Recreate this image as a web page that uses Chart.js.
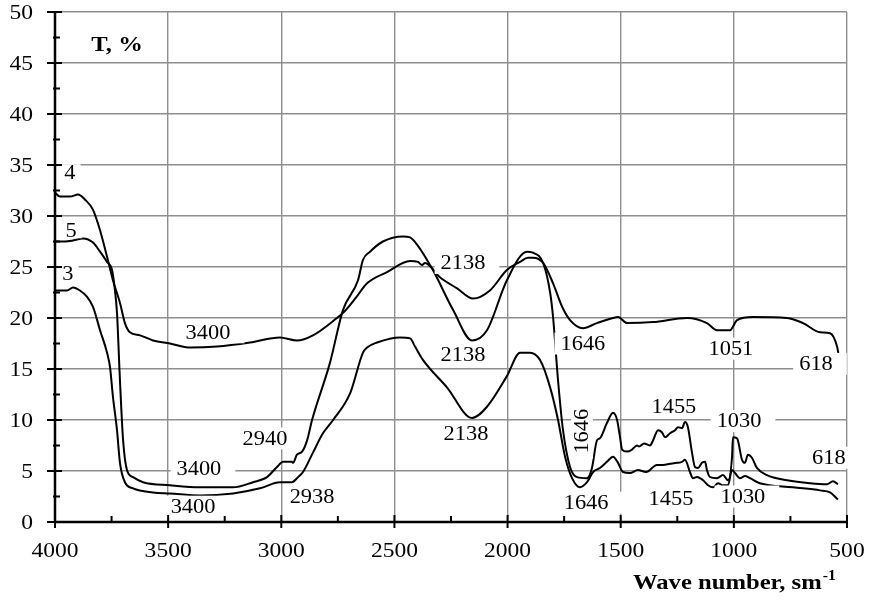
<!DOCTYPE html>
<html>
<head>
<meta charset="utf-8">
<script src="https://cdn.jsdelivr.net/npm/chart.js@4.4.0/dist/chart.umd.min.js"></script>
<style>
  html, body { margin: 0; padding: 0; background: #fff; }
  #wrap { width: 870px; height: 606px; }
</style>
</head>
<body>
<div id="wrap"><canvas id="irChart" width="870" height="606"></canvas></div>
<script>
// IR spectra: [wave number, T %]
const curve4 = [
  [4000, 32.3], [3978, 31.9], [3934, 31.9], [3898, 32.1], [3867, 31.6], [3832, 30.6],
  [3801, 28.6], [3770, 26.0], [3744, 23.7], [3713, 21.5], [3691, 19.5], [3669, 18.6],
  [3624, 18.3], [3567, 17.8], [3492, 17.5], [3403, 17.1], [3284, 17.2], [3138, 17.6],
  [3006, 18.1], [2931, 17.8], [2860, 18.3], [2754, 20.0], [2727, 20.5], [2670, 22.0],
  [2621, 23.4], [2533, 24.5], [2431, 25.6], [2396, 25.5], [2378, 25.2], [2365, 25.4],
  [2299, 24.0], [2223, 22.9], [2153, 21.9], [2078, 22.7], [2003, 24.7], [1945, 25.5],
  [1910, 25.9], [1888, 25.9], [1843, 25.4], [1799, 23.4], [1759, 21.1], [1724, 19.8],
  [1667, 19.0], [1605, 19.5], [1534, 20.0], [1512, 20.1], [1472, 19.5], [1357, 19.6],
  [1207, 20.0], [1119, 19.5], [1074, 18.8], [1017, 18.8], [986, 19.8], [916, 20.1],
  [765, 20.0], [694, 19.5], [619, 18.6], [575, 18.5], [544, 17.2], [531, 15.6]
];
const curve5 = [
  [4000, 27.5], [3956, 27.5], [3920, 27.6], [3876, 27.8], [3832, 27.4], [3801, 26.5],
  [3770, 25.5], [3748, 24.7], [3735, 22.7], [3726, 20.5], [3713, 13.9], [3699, 8.0],
  [3682, 5.1], [3655, 4.4], [3611, 3.9], [3492, 3.6], [3359, 3.4], [3213, 3.4],
  [3125, 3.9], [3063, 4.4], [3019, 5.4], [2992, 5.9], [2953, 5.9], [2948, 5.8],
  [2931, 6.6], [2908, 6.9], [2886, 8.0], [2864, 10.0], [2785, 15.6], [2727, 20.8],
  [2661, 23.7], [2639, 25.7], [2608, 26.5], [2551, 27.5], [2462, 28.0], [2431, 27.9],
  [2400, 27.2], [2330, 24.7], [2241, 20.8], [2157, 17.8], [2091, 18.8], [2003, 23.7],
  [1914, 26.5], [1888, 26.4], [1843, 25.4], [1812, 22.5], [1799, 20.1], [1777, 13.9],
  [1755, 9.0], [1724, 5.4], [1693, 4.4], [1649, 4.3], [1627, 5.3], [1605, 8.0],
  [1592, 8.2], [1561, 9.7], [1534, 10.7], [1516, 10.0], [1503, 8.3], [1494, 7.1],
  [1472, 6.9], [1450, 7.1], [1428, 7.5], [1419, 7.4], [1397, 7.7], [1371, 7.5],
  [1357, 8.0], [1335, 9.0], [1318, 8.8], [1304, 8.3], [1282, 8.7], [1260, 9.0],
  [1247, 9.3], [1229, 9.2], [1216, 9.8], [1203, 9.3], [1185, 6.8], [1172, 5.4],
  [1158, 5.3], [1141, 5.8], [1127, 5.9], [1119, 5.1], [1105, 4.4], [1074, 4.3],
  [1048, 4.6], [1026, 4.1], [1008, 6.4], [1004, 8.3], [986, 8.2], [964, 6.1],
  [951, 5.8], [938, 6.6], [920, 6.3], [898, 5.3], [854, 4.6], [765, 4.1],
  [663, 3.8], [588, 3.7], [562, 4.0], [540, 3.7]
];
const curve3 = [
  [4000, 22.7], [3978, 22.7], [3947, 22.7], [3920, 23.0], [3890, 22.7], [3859, 22.1],
  [3832, 21.1], [3801, 18.8], [3770, 16.6], [3757, 15.2], [3744, 12.3], [3726, 9.0],
  [3713, 5.8], [3691, 3.9], [3655, 3.3], [3567, 2.9], [3492, 2.8], [3359, 2.6],
  [3213, 2.8], [3094, 3.3], [3006, 3.9], [2953, 3.9], [2926, 4.4], [2904, 4.9],
  [2860, 6.8], [2816, 8.7], [2771, 10.0], [2696, 12.6], [2639, 16.6], [2621, 17.1],
  [2577, 17.6], [2475, 18.1], [2431, 18.0], [2409, 17.2], [2374, 15.9], [2268, 13.2],
  [2157, 10.2], [2091, 11.3], [2003, 14.3], [1945, 16.6], [1901, 16.6],
  [1857, 15.9], [1812, 13.2], [1777, 10.0], [1746, 6.4], [1715, 4.3], [1680, 3.4],
  [1649, 3.9], [1622, 4.9], [1592, 5.3], [1561, 5.9], [1534, 6.4], [1512, 5.8],
  [1490, 4.9], [1459, 4.8], [1424, 5.1], [1388, 4.9], [1340, 5.6], [1313, 5.6],
  [1282, 5.7], [1251, 5.8], [1229, 5.9], [1216, 6.1], [1194, 4.9], [1181, 4.3],
  [1163, 4.4], [1150, 4.3], [1136, 4.1], [1114, 3.6], [1092, 3.4], [1070, 3.8],
  [1048, 3.6], [1026, 3.6], [1008, 5.1], [995, 4.8], [973, 4.3], [951, 4.5],
  [929, 4.3], [885, 3.8], [739, 3.4], [619, 3.1], [575, 2.9], [540, 2.2]
];

const xTicks = [4000, 3500, 3000, 2500, 2000, 1500, 1000, 500];
const yTicks = [0, 5, 10, 15, 20, 25, 30, 35, 40, 45, 50];

// curve numbers and band labels, anchored in data units
const curveLabels = [
  { text: '4', x: 3934, y: 34.2 },
  { text: '5', x: 3929, y: 28.6 },
  { text: '3', x: 3943, y: 24.3 }
];
const bandLabels = [
  { text: '3400', x: 3324, y: 18.6 },
  { text: '2940', x: 3072, y: 8.2 },
  { text: '3400', x: 3364, y: 5.2 },
  { text: '3400', x: 3390, y: 1.5 },
  { text: '2938', x: 2864, y: 2.5 },
  { text: '2138', x: 2197, y: 25.4 },
  { text: '2138', x: 2197, y: 16.4 },
  { text: '2138', x: 2184, y: 8.7 },
  { text: '1646', x: 1667, y: 17.5 },
  { text: '1646', x: 1671, y: 8.9, rot: true },
  { text: '1646', x: 1653, y: 1.9 },
  { text: '1455', x: 1265, y: 11.3 },
  { text: '1455', x: 1278, y: 2.3 },
  { text: '1030', x: 977, y: 9.9 },
  { text: '1030', x: 960, y: 2.5 },
  { text: '1051', x: 1013, y: 17.0 },
  { text: '618', x: 637, y: 15.5 },
  { text: '618', x: 580, y: 6.3 }
];

const SERIF = '"Liberation Serif", "Times New Roman", serif';
const SX = 1.12; // the source lettering is slightly wide

function toPoints(arr) {
  return arr.map(p => ({ x: p[0], y: p[1] }));
}

function wideText(ctx, text, px, py, align) {
  ctx.save();
  ctx.translate(px, py);
  ctx.scale(SX, 1);
  ctx.textAlign = align;
  ctx.fillText(text, 0, 0);
  ctx.restore();
}

function labelBox(ctx, text, px, py, rot, small) {
  ctx.save();
  ctx.translate(px, py);
  if (rot) ctx.rotate(-Math.PI / 2);
  const w = ctx.measureText(text).width * SX;
  ctx.fillStyle = '#fff';
  if (small) ctx.fillRect(-w / 2 - 3, -9, w + 8, 17);
  else if (rot) ctx.fillRect(-w / 2 - 5, -11, w + 10, 22);
  else ctx.fillRect(-w / 2 - 6, -11, w + 20, 22);
  ctx.fillStyle = '#000';
  wideText(ctx, text, 0, 1, 'center');
  ctx.restore();
}

const decor = {
  id: 'decor',
  afterDatasetsDraw(chart) {
    const { ctx, scales: { x, y } } = chart;
    ctx.save();
    ctx.textBaseline = 'middle';
    ctx.font = '20px ' + SERIF;
    bandLabels.forEach(l => {
      labelBox(ctx, l.text, x.getPixelForValue(l.x), y.getPixelForValue(l.y), l.rot, false);
    });
    curveLabels.forEach(l => {
      labelBox(ctx, l.text, x.getPixelForValue(l.x), y.getPixelForValue(l.y), false, true);
    });
    // y axis title inside the plot
    ctx.fillStyle = '#000';
    ctx.font = 'bold 22px ' + SERIF;
    wideText(ctx, 'T, %', x.getPixelForValue(3726), y.getPixelForValue(46.7), 'center');
    ctx.restore();
  },
  afterDraw(chart) {
    const { ctx, chartArea: a, scales: { x, y } } = chart;
    ctx.save();
    ctx.strokeStyle = '#000';
    ctx.lineWidth = 2.5;
    ctx.beginPath();
    ctx.moveTo(a.left, a.top);
    ctx.lineTo(a.left, a.bottom + 1);
    ctx.moveTo(a.left - 1, a.bottom);
    ctx.lineTo(a.right + 1, a.bottom);
    ctx.stroke();

    ctx.lineWidth = 2;
    ctx.beginPath();
    yTicks.forEach((v, i) => {
      const py = y.getPixelForValue(v);
      ctx.moveTo(a.left - 8, py);
      ctx.lineTo(a.left + 7, py);
      if (i < yTicks.length - 1) {
        const pm = y.getPixelForValue((v + yTicks[i + 1]) / 2);
        ctx.moveTo(a.left - 2, pm);
        ctx.lineTo(a.left + 5, pm);
      }
    });
    xTicks.forEach((v, i) => {
      const px = x.getPixelForValue(v);
      ctx.moveTo(px, a.bottom - 7);
      ctx.lineTo(px, a.bottom + 6);
      if (i < xTicks.length - 1) {
        const pm = x.getPixelForValue((v + xTicks[i + 1]) / 2);
        ctx.moveTo(pm, a.bottom - 6);
        ctx.lineTo(pm, a.bottom);
      }
    });
    ctx.stroke();

    // tick labels
    ctx.fillStyle = '#000';
    ctx.font = '21px ' + SERIF;
    ctx.textBaseline = 'middle';
    yTicks.forEach(v => wideText(ctx, String(v), a.left - 22, y.getPixelForValue(v) + 1, 'right'));
    xTicks.forEach(v => wideText(ctx, String(v), x.getPixelForValue(v), a.bottom + 29, 'center'));

    // x axis title with superscript
    ctx.textBaseline = 'alphabetic';
    ctx.font = 'bold 22px ' + SERIF;
    const main = 'Wave number, sm';
    const w = ctx.measureText(main).width * SX;
    const x0 = 633;
    wideText(ctx, main, x0, 589, 'left');
    ctx.font = 'bold 14px ' + SERIF;
    wideText(ctx, '-1', x0 + w + 1, 580, 'left');
    ctx.restore();
  }
};

const lineStyle = {
  borderColor: '#000',
  borderWidth: 2,
  pointRadius: 0,
  fill: false,
  cubicInterpolationMode: 'monotone'
};

new Chart(document.getElementById('irChart'), {
  type: 'line',
  data: {
    datasets: [
      Object.assign({ label: '4', data: toPoints(curve4) }, lineStyle),
      Object.assign({ label: '5', data: toPoints(curve5) }, lineStyle),
      Object.assign({ label: '3', data: toPoints(curve3) }, lineStyle)
    ]
  },
  options: {
    responsive: false,
    animation: false,
    devicePixelRatio: 1,
    layout: { padding: { left: 0, top: 12, right: 23, bottom: 0 } },
    plugins: {
      legend: { display: false },
      tooltip: { enabled: false }
    },
    scales: {
      x: {
        type: 'linear',
        reverse: true,
        min: 500,
        max: 4000,
        afterBuildTicks: s => { s.ticks = xTicks.map(v => ({ value: v })); },
        afterFit: s => {
          s.height = 84;
          s.paddingLeft = 0;
          s.paddingRight = 0;
        },
        grid: { color: '#8e8e8e', lineWidth: 1.4, drawTicks: false },
        border: { display: false },
        ticks: { display: false }
      },
      y: {
        min: 0,
        max: 50,
        afterBuildTicks: s => { s.ticks = yTicks.map(v => ({ value: v })); },
        afterFit: s => {
          s.width = 55;
          s.paddingTop = 0;
          s.paddingBottom = 0;
        },
        grid: { color: '#8e8e8e', lineWidth: 1.4, drawTicks: false },
        border: { display: false },
        ticks: { display: false }
      }
    }
  },
  plugins: [decor]
});
</script>
</body>
</html>
